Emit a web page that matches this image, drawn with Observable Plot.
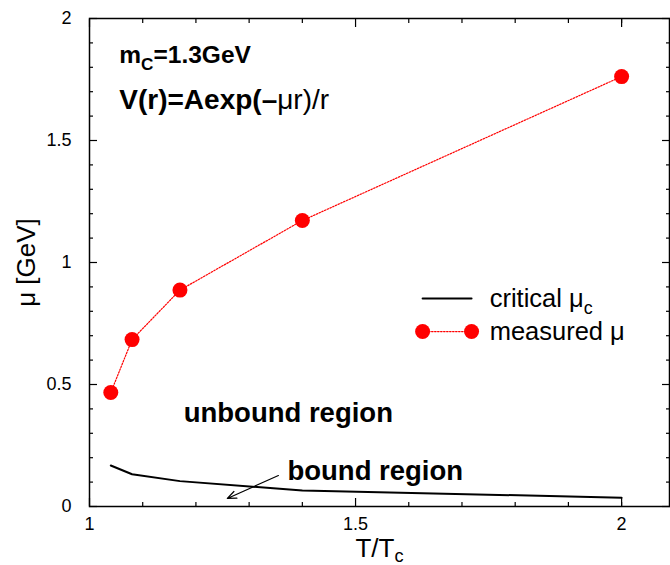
<!DOCTYPE html>
<html><head><meta charset="utf-8">
<script src="https://cdn.jsdelivr.net/npm/d3@7"></script>
<script src="https://cdn.jsdelivr.net/npm/@observablehq/plot@0.6"></script>
<style>
body{margin:0;background:#fff;}
#chart{width:670px;height:565px;overflow:hidden;}
</style></head><body><div id="chart"></div>
<script>
// ---- data ----
const measuredT  = [1.04, 1.08, 1.17, 1.40, 2.00];
const measuredMu = [0.467, 0.684, 0.887, 1.172, 1.762];
const criticalT  = [1.04, 1.08, 1.17, 1.40, 2.00];
const criticalMu = [0.168, 0.132, 0.104, 0.066, 0.036];
const xMajorTicks = [1, 1.5, 2];
const xMinorTicks = [1.1, 1.2, 1.3, 1.4, 1.6, 1.7, 1.8, 1.9, 2.0];
const yMajorTicks = [0, 0.5, 1, 1.5, 2];
const yMinorTicks = [0.1,0.2,0.3,0.4,0.6,0.7,0.8,0.9,1.1,1.2,1.3,1.4,1.6,1.7,1.8,1.9];
const annotationTexts = ["m_{C}=1.3GeV", "V(r)=Aexp(–~{μr)/r}", "unbound region", "bound region"];
const legendTexts = ["critical μ_{c}", "measured μ"];
const xTitle = "T/T_{c}";
const yTitle = "μ [GeV]";

const measured = measuredT.map((t, i) => ({t, mu: measuredMu[i]}));
const critical = criticalT.map((t, i) => ({t, mu: criticalMu[i]}));

// annotation placement (data units) and sizes
const annoPos = [[1.056, 1.816], [1.056, 1.631], [1.177, 0.348], [1.372, 0.107]];
const annoSize = [24.5, 28, 27.5, 27.5];
const annos = annotationTexts.map((text, i) => ({text, x: annoPos[i][0], y: annoPos[i][1], fs: annoSize[i]}));
const arrowAnno = [{x1: 1.355, y1: 0.127, x2: 1.259, y2: 0.033}];
const legX1 = 1.626, legX2 = 1.718, legTextX = 1.752, legY1 = 0.852, legY2 = 0.717;
const legLine = [{t: legX1, mu: legY1}, {t: legX2, mu: legY1}];
const legMeas = [{t: legX1, mu: legY2}, {t: legX2, mu: legY2}];
const legLabels = [{text: legendTexts[0], t: legTextX, mu: legY1}, {text: legendTexts[1], t: legTextX, mu: legY2}];

const tickAxes = [];
for (const a of ["bottom", "top"]) {
  tickAxes.push(Plot.axisX(xMajorTicks, {anchor: a, tickSize: -8, strokeWidth: 1.2, fill: "none", tickFormat: () => "", label: null}));
  tickAxes.push(Plot.axisX(xMinorTicks, {anchor: a, tickSize: -4, strokeWidth: 1.2, fill: "none", tickFormat: () => "", label: null}));
}
for (const a of ["left", "right"]) {
  tickAxes.push(Plot.axisY(yMajorTicks, {anchor: a, tickSize: -8, strokeWidth: 1.2, fill: "none", tickFormat: () => "", label: null}));
  tickAxes.push(Plot.axisY(yMinorTicks, {anchor: a, tickSize: -4, strokeWidth: 1.2, fill: "none", tickFormat: () => "", label: null}));
}

const chart = Plot.plot({
  width: 670, height: 565,
  marginLeft: 89, marginRight: 1, marginTop: 18, marginBottom: 59,
  style: {fontFamily: "'Liberation Sans', Arial, Helvetica, sans-serif", fontSize: "18px", background: "white", color: "black", overflow: "visible"},
  x: {domain: [1, 2.09]},
  y: {domain: [0, 2]},
  marks: [
    Plot.axisX(xMajorTicks, {anchor: "bottom", tickSize: 0, tickPadding: 11, fontSize: 18, tickFormat: d => String(d), label: null}),
    Plot.axisY(yMajorTicks, {anchor: "left", tickSize: 0, tickPadding: 18, fontSize: 18, tickFormat: d => String(d), label: null}),
    ...tickAxes,
    Plot.frame({stroke: "black", strokeWidth: 1.5}),
    Plot.line(critical, {x: "t", y: "mu", stroke: "black", strokeWidth: 2}),
    Plot.line(measured, {x: "t", y: "mu", stroke: "#ff0000", strokeWidth: 1.2, strokeDasharray: "1.5,1.5"}),
    Plot.dot(measured, {x: "t", y: "mu", r: 7.5, fill: "#ff0000", stroke: "none"}),
    ...annos.map(a => Plot.text([a], {x: "x", y: "y", text: "text", fontSize: a.fs, fontWeight: "bold", textAnchor: "start", lineAnchor: "bottom", fill: "black"})),
    Plot.arrow(arrowAnno, {x1: "x1", y1: "y1", x2: "x2", y2: "y2", stroke: "black", strokeWidth: 1.2, headLength: 12, headAngle: 45}),
    // legend
    Plot.line(legLine, {x: "t", y: "mu", stroke: "black", strokeWidth: 2}),
    Plot.line(legMeas, {x: "t", y: "mu", stroke: "#ff0000", strokeWidth: 1.2, strokeDasharray: "1.5,1.5"}),
    Plot.dot(legMeas, {x: "t", y: "mu", r: 7.5, fill: "#ff0000", stroke: "none"}),
    Plot.text(legLabels, {x: "t", y: "mu", text: "text", fontSize: 25.5, textAnchor: "start", lineAnchor: "middle", fill: "black"}),
    // axis titles
    Plot.text([xTitle], {frameAnchor: "bottom", dy: 50, fontSize: 26, textAnchor: "middle", lineAnchor: "bottom", fill: "black"}),
    Plot.text([yTitle], {frameAnchor: "left", dx: -55, rotate: -90, fontSize: 26, textAnchor: "middle", lineAnchor: "bottom", fill: "black"})
  ]
});

document.getElementById("chart").appendChild(chart);

// rich text: _{..} subscript, ~{..} normal weight
d3.select(chart).selectAll("text").each(function() {
  const el = this;
  const s = el.textContent;
  if (!/[_~]\{/.test(s)) return;
  const fs = parseFloat(getComputedStyle(el).fontSize) || 18;
  const shift = s.startsWith("T/T") ? 0.2 * fs : 0.28 * fs;
  const parts = s.split(/(_\{[^}]*\}|~\{[^}]*\})/).filter(p => p !== "");
  while (el.firstChild) el.removeChild(el.firstChild);
  let shifted = false;
  for (const p of parts) {
    const t = document.createElementNS("http://www.w3.org/2000/svg", "tspan");
    if (p.startsWith("_{")) {
      t.textContent = p.slice(2, -1);
      t.setAttribute("dy", shift);
      t.setAttribute("font-size", (0.7 * fs) + "px");
      shifted = true;
    } else {
      if (p.startsWith("~{")) { t.textContent = p.slice(2, -1); t.setAttribute("font-weight", "normal"); }
      else t.textContent = p;
      if (shifted) { t.setAttribute("dy", -shift); shifted = false; }
    }
    el.appendChild(t);
  }
});
</script>
</body></html>
